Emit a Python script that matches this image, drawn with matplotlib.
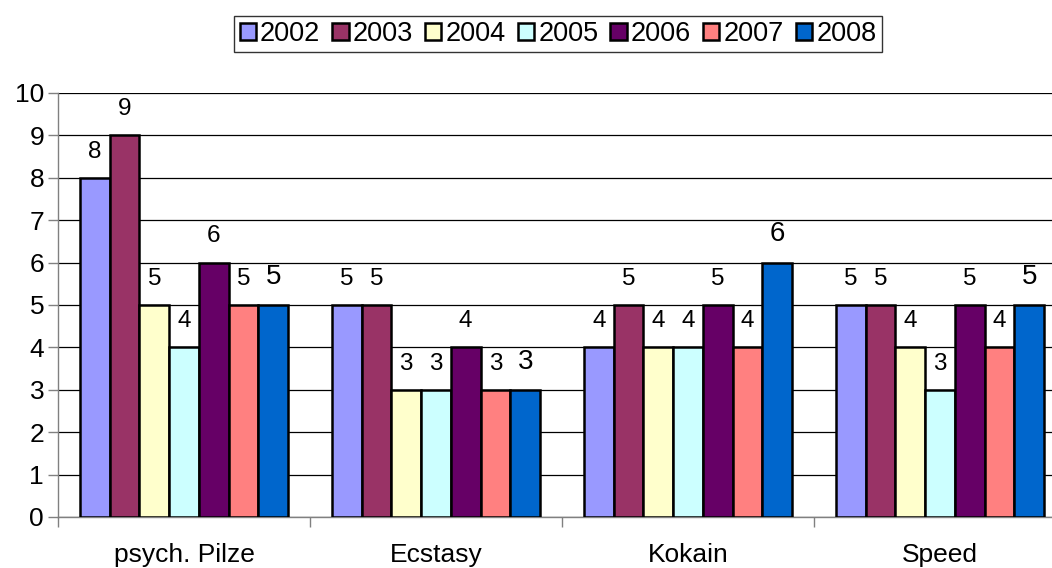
import numpy as np
import matplotlib
matplotlib.use("Agg")
import matplotlib.pyplot as plt
from matplotlib.patches import Patch

categories = ["psych. Pilze", "Ecstasy", "Kokain", "Speed"]
years = ["2002", "2003", "2004", "2005", "2006", "2007", "2008"]
v2002 = [8, 5, 4, 5]
v2003 = [9, 5, 5, 5]
v2004 = [5, 3, 4, 4]
v2005 = [4, 3, 4, 3]
v2006 = [6, 4, 5, 5]
v2007 = [5, 3, 4, 4]
v2008 = [5, 3, 6, 5]
series = [v2002, v2003, v2004, v2005, v2006, v2007, v2008]
colors = ["#9999FF", "#993366", "#FFFFCC", "#CCFFFF", "#660066", "#FF8080", "#0066CC"]

plt.rcParams['font.family'] = ['Liberation Sans', 'DejaVu Sans']

fig = plt.figure(figsize=(10.52, 5.68), dpi=100)
W, H = 1052, 568
x0, x1, ytop, ybot = 58, 1066, 93, 517
ax = fig.add_axes([x0 / W, 1 - ybot / H, (x1 - x0) / W, (ybot - ytop) / H])

n = len(series)
bw = 208 / 252 / n
x = np.arange(len(categories))
for i, vals in enumerate(series):
    pos = x - 0.5 * n * bw + (i + 0.5) * bw
    ax.bar(pos, vals, width=bw, color=colors[i], edgecolor="black", linewidth=1.8, zorder=3)
    fs = 20 if i == n - 1 else 17.5
    for px, v in zip(pos, vals):
        ax.annotate(str(v), (px, v), xytext=(0, 11), textcoords="offset points",
                    ha="center", va="bottom", fontsize=fs)

ax.set_xlim(-0.5, len(categories) - 0.5)
ax.set_ylim(0, 10)
ax.set_yticks(range(0, 11))
ax.yaxis.grid(True, color="black", linewidth=0.9, zorder=0)
ax.set_xticks(x)
ax.set_xticklabels(categories, fontsize=19)
ax.set_xticks(np.arange(-0.5, len(categories)), minor=True)
ax.tick_params(axis="x", which="major", length=0, pad=19)
ax.tick_params(axis="x", which="minor", length=7, color="#808080", width=1)
ax.tick_params(axis="y", length=7, color="#808080", width=1, labelsize=19, pad=3)
for s in ["top", "right"]:
    ax.spines[s].set_visible(False)
for s in ["left", "bottom"]:
    ax.spines[s].set_color("#808080")
    ax.spines[s].set_linewidth(1)

handles = [Patch(facecolor=c, edgecolor="black", linewidth=1.8) for c in colors]
leg = fig.legend(handles, years, loc="center", bbox_to_anchor=(558 / W, 1 - 34 / H),
                 ncol=7, fontsize=19.5, frameon=True, fancybox=False,
                 handlelength=0.6, handleheight=0.6, handletextpad=0.15,
                 columnspacing=0.45, borderpad=0.2)
leg.get_frame().set_edgecolor("black")
leg.get_frame().set_linewidth(1)

fig.savefig("out.png", dpi=100)
